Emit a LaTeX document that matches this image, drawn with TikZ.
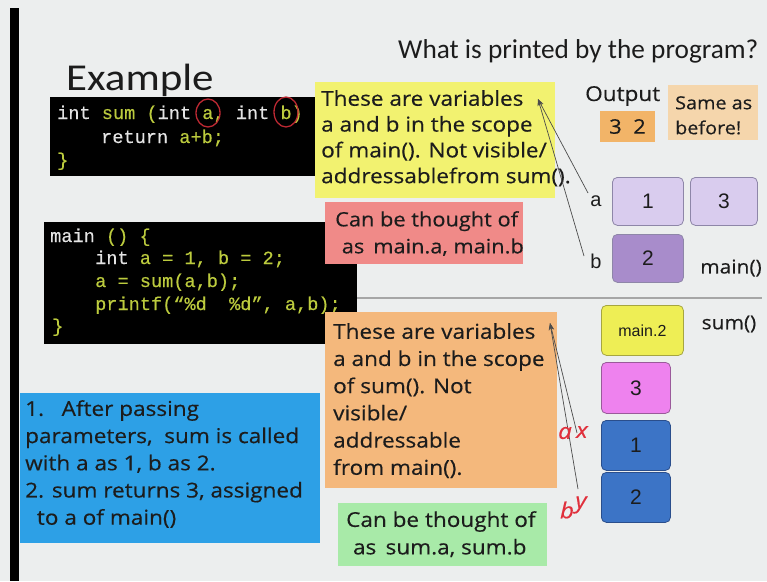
\documentclass[tikz,border=0pt]{standalone}
\usepackage{fontspec}
\setmainfont{Carlito}
\newfontfamily\comic[FakeStretch=1.1,FakeBold=0.4]{Open Sans}
\newfontfamily\exfont[FakeStretch=1.13]{Carlito}
\newfontfamily\codefont[FakeBold=0.4]{Liberation Mono}
\newfontfamily\arialf{Liberation Sans}
\usetikzlibrary{arrows.meta}
\definecolor{bgc}{HTML}{ECEEEE}
\definecolor{codew}{HTML}{E4E4E4}
\definecolor{codeg}{HTML}{BCCB3E}
\definecolor{ybox}{HTML}{F2F270}
\definecolor{pbox}{HTML}{F08A88}
\definecolor{obox}{HTML}{F4B87C}
\definecolor{gbox}{HTML}{A8EAA8}
\definecolor{bbox}{HTML}{2DA0E6}
\definecolor{outbox}{HTML}{F2B468}
\definecolor{samebox}{HTML}{F5D6AC}
\definecolor{lav}{HTML}{D9CCEE}
\definecolor{lavb}{HTML}{8E86A8}
\definecolor{dpur}{HTML}{A88CCB}
\definecolor{memy}{HTML}{EEEE55}
\definecolor{memyb}{HTML}{A6A640}
\definecolor{mag}{HTML}{EE82EE}
\definecolor{magb}{HTML}{9A5A9A}
\definecolor{memb}{HTML}{3C74C6}
\definecolor{membb}{HTML}{2A4E8C}
\definecolor{handred}{HTML}{E0303C}
\definecolor{txt}{HTML}{1C1C1C}
\begin{document}
\begin{tikzpicture}[x=1pt,y=-1pt,
  panel/.style={fill=#1, draw=none, anchor=north west, inner sep=0pt, outer sep=0pt},
  codebox/.style={fill=black, draw=none, anchor=north west, inner sep=0pt},
  codeline/.style={anchor=base west, inner sep=0pt, font=\codefont\fontsize{18.6}{22}\selectfont},
  comictext/.style={anchor=north west, inner sep=0pt, align=left, text=txt, font=\comic\fontsize{20.5}{25.8}\selectfont},
  mem/.style={fill=#1, rounded corners=5pt, anchor=north west, inner sep=0pt, line width=0.8pt},
  memtext/.style={font=\arialf\fontsize{21}{24}\selectfont, text=txt},
  lbl/.style={font=\arialf\fontsize{20}{24}\selectfont, text=txt, inner sep=0pt},
  ptr/.style={draw=black!70, line width=0.7pt, -{Stealth[length=7pt,width=5pt]}},
  hand/.style={font=\comic\itshape\fontsize{22}{24}\selectfont, text=handred, inner sep=0pt},
  ring/.style={draw=handred!85!black, line width=1.3pt}
]
\useasboundingbox (0,0) rectangle (767,581);
\fill[bgc] (0,0) rectangle (767,581);
\fill[black] (10,8) rectangle (19,581);

% titles
\node[anchor=base west, inner sep=0pt, font=\fontsize{27.3}{32}\selectfont, text=txt] (title) at (398,58) {What is printed by the program?};
\node[anchor=base west, inner sep=0pt, font=\exfont\fontsize{38}{40}\selectfont, text=txt] (example) at (66,90) {Example};

% code box 1
\node[codebox, minimum width=268pt, minimum height=79pt] (code1) at (50,97) {};
\node[codeline] (c1a) at (57,119) {\textcolor{codew}{int} \textcolor{codeg}{sum (}\textcolor{codew}{int} \textcolor{codeg}{a,} \textcolor{codew}{int} \textcolor{codeg}{b)}};
\node[codeline] (c1b) at (101,143) {\textcolor{codew}{return} \textcolor{codeg}{a+b;}};
\node[codeline] (c1c) at (57,166) {\textcolor{codeg}{\}}};
\draw[ring] (208,113) ellipse (12pt and 14pt);
\draw[ring] (286,112) ellipse (12pt and 15pt);

% code box 2
\node[codebox, minimum width=313pt, minimum height=122pt] (code2) at (44,222) {};
\node[codeline] (c2a) at (50,242) {\textcolor{codew}{main} \textcolor{codeg}{() \{}};
\node[codeline] (c2b) at (95,264) {\textcolor{codew}{int} \textcolor{codeg}{a = 1, b = 2;}};
\node[codeline] (c2c) at (95,287) {\textcolor{codeg}{a = sum(a,b);}};
\node[codeline] (c2d) at (95,310) {\textcolor{codeg}{printf(“\%d\ \ \%d”, a,b);}};
\node[codeline] (c2e) at (52,332) {\textcolor{codeg}{\}}};

% separator
\draw[gray!70, line width=1.2pt] (357,298) -- (762,298);

% yellow box
\node[panel=ybox, minimum width=240pt, minimum height=116pt] (yb) at (315,82) {};
\node[comictext] (ybt) at (321,90) {These are variables\\a and b in the scope\\of main(). Not visible/\\addressablefrom sum().};

% pink box
\node[panel=pbox, minimum width=198pt, minimum height=62pt] (pb) at (325,202) {};
\node[comictext, font=\comic\fontsize{19.8}{27}\selectfont] (pbt) at (335,211) {Can be thought of\\\,\,as\ \,main.a, main.b};

% orange box
\node[panel=obox, minimum width=232pt, minimum height=176pt] (ob) at (325,312) {};
\node[comictext, font=\comic\fontsize{20.5}{27.2}\selectfont] (obt) at (333,323) {These are variables\\a and b in the scope\\of sum(). Not\\visible/\\addressable\\from main().};

% green box
\node[panel=gbox, minimum width=209pt, minimum height=63pt] (gb) at (338,503) {};
\node[comictext, font=\comic\fontsize{20.5}{27.5}\selectfont] (gbt) at (346,511) {Can be thought of\\\,\,as\ \,sum.a, sum.b};

% blue box
\node[panel=bbox, minimum width=300pt, minimum height=150pt] (bb) at (20,393) {};
\node[comictext, font=\comic\fontsize{20.5}{27.2}\selectfont] (bbt) at (25,400) {1.\ \ \ After passing\\parameters,\ \ sum is called\\with a as 1, b as 2.\\2. sum returns 3, assigned\\\ \ to a of main()};

% output
\node[anchor=base west, inner sep=0pt, font=\comic\fontsize{20.5}{24}\selectfont, text=txt] (outl) at (585,101) {Output};
\node[panel=outbox, minimum width=55pt, minimum height=31pt] (ob32) at (600,111) {};
\node[font=\comic\fontsize{20}{24}\selectfont, text=txt] (o32) at (ob32.center) {3\ \ 2};
\node[panel=samebox, minimum width=90pt, minimum height=55pt] (sb) at (668,85) {};
\node[comictext, font=\comic\fontsize{18}{25}\selectfont] (sbt) at (675,96) {Same as\\before!};

% main() memory
\node[mem=lav, draw=lavb, minimum width=71pt, minimum height=48pt] (ma1) at (612,177) {};
\node[memtext] at (ma1.center) {1};
\node[mem=lav, draw=lavb, minimum width=67pt, minimum height=48pt] (ma3) at (690,177) {};
\node[memtext] at (ma3.center) {3};
\node[mem=dpur, draw=lavb, minimum width=71pt, minimum height=48pt] (mb2) at (612,234) {};
\node[memtext] at (mb2.center) {2};
\node[lbl, anchor=center] (la) at (596,201) {a};
\node[lbl, anchor=center] (lb) at (596,261) {b};
\node[anchor=center, inner sep=0pt, font=\comic\fontsize{19}{24}\selectfont, text=txt] (mainl) at (731,268) {main()};

% sum() memory
\node[anchor=center, inner sep=0pt, font=\comic\fontsize{19}{24}\selectfont, text=txt] (suml) at (729,324) {sum()};
\node[mem=memy, draw=memyb, minimum width=82pt, minimum height=50pt] (s1) at (601,305) {};
\node[font=\arialf\fontsize{16}{20}\selectfont, text=txt] at (s1.center) {main.2};
\node[mem=mag, draw=magb, minimum width=69pt, minimum height=51pt] (s2) at (601,362) {};
\node[memtext] at (s2.center) {3};
\node[mem=memb, draw=membb, minimum width=69pt, minimum height=50pt] (s3) at (601,420) {};
\node[memtext] at (s3.center) {1};
\node[mem=memb, draw=membb, minimum width=69pt, minimum height=50pt] (s4) at (601,472) {};
\node[memtext] at (s4.center) {2};

% pointers main
\coordinate (ytip) at (538,99);
\coordinate (astart) at (588,193);
\coordinate (bstart) at (584,256);
\draw[ptr] (astart) -- (ytip);
\draw[ptr] (bstart) -- (ytip);

% pointers sum
\coordinate (otip) at (550,323);
\coordinate (xstart) at (577,433);
\coordinate (ystart) at (578,489);
\draw[ptr] (xstart) -- (otip);
\draw[ptr] (ystart) -- (otip);

% handwriting
\node[hand] (ha) at (565,433) {a};
\node[hand] (hx) at (582,432) {x};
\node[hand] (hb) at (567,510) {b};
\node[hand] (hy) at (581,505) {y};
\end{tikzpicture}
\end{document}
